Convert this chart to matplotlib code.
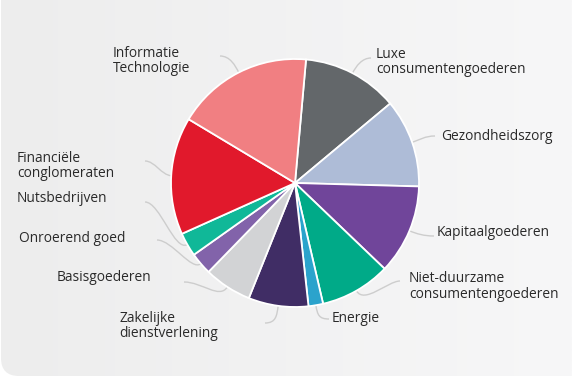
import matplotlib
matplotlib.use('Agg')
import matplotlib.pyplot as plt
import numpy as np
from matplotlib.patches import FancyBboxPatch, PathPatch
from matplotlib.path import Path

# sector weights (%), clockwise from the top
sectors = ['Luxe consumentengoederen', 'Gezondheidszorg', 'Kapitaalgoederen',
           'Niet-duurzame consumentengoederen', 'Energie', 'Zakelijke dienstverlening',
           'Basisgoederen', 'Onroerend goed', 'Nutsbedrijven',
           'Financiële conglomeraten', 'Informatie Technologie']
shares = [12.5, 11.5, 11.7, 9.2, 1.9, 7.8, 6.2, 2.9, 3.1, 15.3, 17.8]
colors = ['#63676a', '#aebcd7', '#70459a', '#00aa88', '#2ba3cc', '#402d65',
          '#d2d3d5', '#8263aa', '#10b898', '#e1192c', '#f17f82']

# label lines as drawn next to each slice
label_lines = [['Luxe', 'consumentengoederen'], ['Gezondheidszorg'], ['Kapitaalgoederen'],
               ['Niet-duurzame', 'consumentengoederen'], ['Energie'],
               ['Zakelijke', 'dienstverlening'], ['Basisgoederen'], ['Onroerend goed'],
               ['Nutsbedrijven'], ['Financiële', 'conglomeraten'], ['Informatie', 'Technologie']]

W, H = 572, 378
CX, CY, R = 295, 183, 124

# label position (x, first baseline) in pixels from top-left
label_pos = [(376, 57.5), (441, 139.5), (437, 236), (409, 282.5), (332, 322.5),
             (119, 322), (57, 281), (19, 241.7), (17, 201.7), (17, 161.7), (113, 56.7)]
# leader start (x, y), horizontal direction, handle lengths
leader = [((371, 58), -1, 9, 8), ((435, 136), -1, 10, 8), ((434, 236), -1, 10, 8),
          ((400, 281), -1, 12, 16), ((329, 319), -1, 10, 10), ((265, 323), 1, 11, 10),
          ((184, 282), 1, 18, 15), ((157, 240), 1, 15, 12), ((145, 202), 1, 15, 15),
          ((145, 161), 1, 10, 10), ((220, 56), 1, 10, 8)]


def Y(y):
    return H - y


fig = plt.figure(figsize=(W / 100, H / 100), dpi=100, facecolor='white')
ax = fig.add_axes([0, 0, 1, 1])
ax.set_xlim(0, W)
ax.set_ylim(0, H)
ax.set_aspect('equal')
ax.axis('off')

# grey panel with rounded corners and a soft left-to-right gradient
panel = FancyBboxPatch((1, Y(376)), W + 40, H + 40,
                       boxstyle='round,pad=0,rounding_size=18',
                       facecolor='none', edgecolor='none')
ax.add_patch(panel)
grad = np.linspace(0, 1, 256)[None, :]
cmap = matplotlib.colors.LinearSegmentedColormap.from_list('bg', ['#ededed', '#f7f7f8'])
im = ax.imshow(grad, extent=(0, W, 0, H), cmap=cmap, aspect='auto', zorder=0)
im.set_clip_path(panel)

wedges, _ = ax.pie(shares, colors=colors, startangle=84.9, counterclock=False,
                   center=(CX, Y(CY)), radius=R, normalize=True,
                   wedgeprops=dict(edgecolor='white', linewidth=1.3))
for w in wedges:
    w.set_zorder(3)

ax.set_xlim(0, W)
ax.set_ylim(0, H)

for w, lines, (lx, ly), (start, d, h, k) in zip(wedges, label_lines, label_pos, leader):
    mid = np.deg2rad((w.theta1 + w.theta2) / 2)
    ux, uy = np.cos(mid), np.sin(mid)
    ex, ey = CX + R * ux, Y(CY) + R * uy
    sx, sy = start[0], Y(start[1])
    verts = [(sx, sy), (sx + d * h, sy), (ex + k * ux, ey + k * uy), (ex, ey)]
    codes = [Path.MOVETO, Path.CURVE4, Path.CURVE4, Path.CURVE4]
    ax.add_patch(PathPatch(Path(verts, codes), facecolor='none',
                           edgecolor='#cdcdcd', linewidth=1.0, zorder=2))
    for i, line in enumerate(lines):
        ax.text(lx, Y(ly + i * 15.4), line, fontsize=9.9, family='Open Sans',
                color='#2a2a2a', ha='left', va='baseline', zorder=4)

fig.savefig('out.png', dpi=100, facecolor='white')
